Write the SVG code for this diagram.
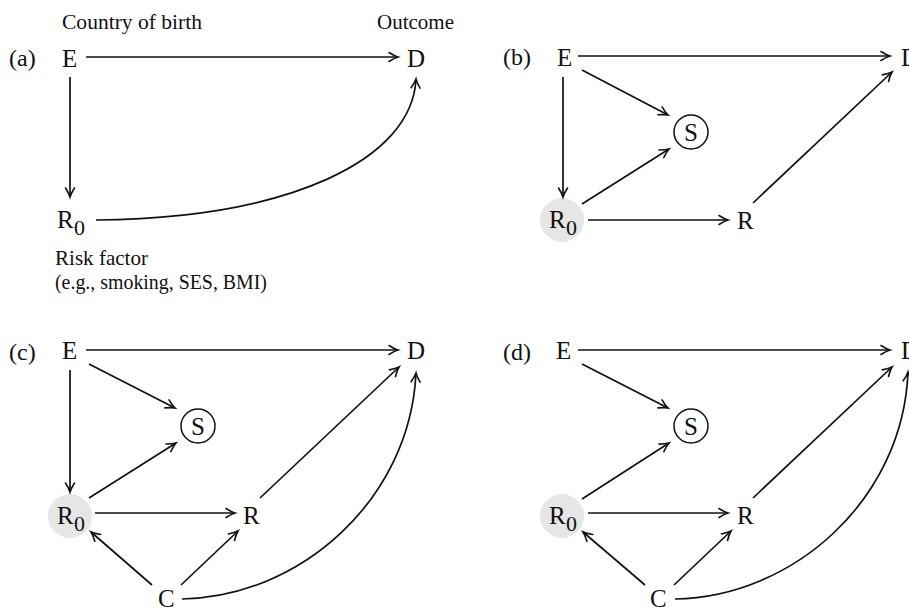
<svg xmlns="http://www.w3.org/2000/svg" width="909" height="608" viewBox="0 0 909 608">
<defs>
<marker id="ah" markerUnits="userSpaceOnUse" markerWidth="20" markerHeight="20" viewBox="-10 -10 20 20" refX="0" refY="0" orient="auto" overflow="visible">
<path d="M-9,-4.5 Q-3.5,-1 0,0 Q-3.5,1 -9,4.5" fill="none" stroke="#111" stroke-width="1.6" stroke-linecap="round"/>
</marker>
</defs>
<style>
text{font-family:"Liberation Serif","Times New Roman",serif;fill:#111}
.n{font-size:25px}
.sub{font-size:22px}
.lab{font-size:21px}
.pl{font-size:24px}
.e{fill:none;stroke:#111;stroke-width:1.7;marker-end:url(#ah)}
.sh{fill:#e6e6e6;stroke:none}
.sc{fill:none;stroke:#111;stroke-width:1.5}
</style>
<rect width="909" height="608" fill="#fff"/>

<!-- Panel labels -->
<g id="labels">
<text class="pl" x="9" y="66">(a)</text>
<text class="pl" x="503" y="65">(b)</text>
<text class="pl" x="9" y="360">(c)</text>
<text class="pl" x="503" y="360">(d)</text>
<text class="lab" x="62" y="29" textLength="140" lengthAdjust="spacingAndGlyphs">Country of birth</text>
<text class="lab" x="377" y="29" textLength="77" lengthAdjust="spacingAndGlyphs">Outcome</text>
<text class="lab" x="55" y="265" textLength="93" lengthAdjust="spacingAndGlyphs">Risk factor</text>
<text class="lab" x="55" y="289" textLength="212" lengthAdjust="spacingAndGlyphs">(e.g., smoking, SES, BMI)</text>
</g>

<!-- Panel a nodes -->
<g id="a-E"><text class="n" x="62" y="67">E</text></g>
<g id="a-D"><text class="n" x="407" y="67">D</text></g>
<g id="a-R0"><text class="n" x="57" y="228">R</text><text class="sub" x="74" y="235">0</text></g>

<!-- Panel b nodes -->
<g id="b-E"><text class="n" x="557" y="66">E</text></g>
<g id="b-D"><text class="n" x="901" y="66">D</text></g>
<g id="b-R0"><circle class="sh" cx="562" cy="220" r="22"/><text class="n" x="549" y="228">R</text><text class="sub" x="566" y="235">0</text></g>
<g id="b-S"><circle class="sc" cx="691" cy="132" r="17"/><text class="n" x="691" y="141" text-anchor="middle">S</text></g>
<g id="b-R"><text class="n" x="737" y="229">R</text></g>

<!-- Panel c nodes -->
<g id="c-E"><text class="n" x="62" y="359">E</text></g>
<g id="c-D"><text class="n" x="407" y="359">D</text></g>
<g id="c-R0"><circle class="sh" cx="70" cy="516" r="22"/><text class="n" x="57" y="524">R</text><text class="sub" x="74" y="531">0</text></g>
<g id="c-S"><circle class="sc" cx="198" cy="426" r="17"/><text class="n" x="198" y="435" text-anchor="middle">S</text></g>
<g id="c-R"><text class="n" x="243" y="524">R</text></g>
<g id="c-C"><text class="n" x="158" y="607">C</text></g>

<!-- Panel d nodes -->
<g id="d-E"><text class="n" x="556" y="359">E</text></g>
<g id="d-D"><text class="n" x="901" y="359">D</text></g>
<g id="d-R0"><circle class="sh" cx="562" cy="516" r="22"/><text class="n" x="549" y="524">R</text><text class="sub" x="566" y="531">0</text></g>
<g id="d-S"><circle class="sc" cx="691" cy="426" r="17"/><text class="n" x="691" y="435" text-anchor="middle">S</text></g>
<g id="d-R"><text class="n" x="737" y="524">R</text></g>
<g id="d-C"><text class="n" x="650" y="607">C</text></g>

<g id="connectors">
<!-- a -->
<path class="e" d="M86,57 L398,57"/>
<path class="e" d="M70,77 L70,197"/>
<path class="e" d="M96,220 C290,218 412,160 416,79"/>
<!-- b -->
<path class="e" d="M578,56 L890,56"/>
<path class="e" d="M563,77 L563,197"/>
<path class="e" d="M582,70 L668,115"/>
<path class="e" d="M582,204 L669,149"/>
<path class="e" d="M588,220 L728,220"/>
<path class="e" d="M753,203 L892,72"/>
<!-- c -->
<path class="e" d="M86,350 L398,350"/>
<path class="e" d="M70,370 L70,492"/>
<path class="e" d="M89,364 L175,408"/>
<path class="e" d="M89,498 L176,443"/>
<path class="e" d="M95,513 L235,513"/>
<path class="e" d="M260,498 L399,367"/>
<path class="e" d="M152,585 L91,532"/>
<path class="e" d="M181,585 L238,531"/>
<path class="e" d="M182,599 C300,597 410,500 416,373"/>
<!-- d -->
<path class="e" d="M578,350 L890,350"/>
<path class="e" d="M582,364 L668,408"/>
<path class="e" d="M582,499 L669,443"/>
<path class="e" d="M588,513 L728,513"/>
<path class="e" d="M753,498 L892,367"/>
<path class="e" d="M645,585 L583,532"/>
<path class="e" d="M674,585 L731,531"/>
<path class="e" d="M675,599 C793,597 903,500 908,372"/>
</g>
</svg>
